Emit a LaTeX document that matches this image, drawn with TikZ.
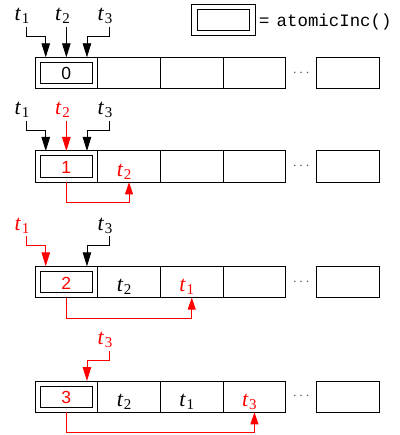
\documentclass[tikz,border=0pt]{standalone}
\usepackage{fontspec}
\setmainfont{Liberation Serif}
\newfontfamily\numfont{Liberation Sans}
\newfontfamily\codefont{Liberation Mono}
\usetikzlibrary{arrows.meta}
% thread name t_i with a lowered upright index
\newcommand\tsub[1]{\textit{t}\kern0.5pt\raisebox{-3pt}{\fontsize{15}{15}\selectfont #1}}

\begin{document}
\begin{tikzpicture}[x=1pt,y=-1pt,
  cell/.style={draw, line width=1pt, minimum width=62.7pt, minimum height=31.3pt, inner sep=0pt, outer sep=0pt},
  casbox/.style={draw, line width=1pt, minimum width=52pt, minimum height=21.3pt, inner sep=0pt, outer sep=0pt},
  num/.style={font=\numfont\fontsize{17.5}{19}\selectfont, inner sep=0pt},
  tlab/.style={font=\fontsize{22}{24}\selectfont, inner sep=0pt, anchor=base west},
  tcell/.style={font=\fontsize{22}{24}\selectfont, inner sep=0pt, anchor=base},
  conn/.style={line width=0.9pt, -{Triangle[length=14pt,width=8.5pt]}},
  back/.style={line width=0.9pt, -{Triangle[length=12pt,width=8pt]}}
]
\useasboundingbox (0,0) rectangle (399,435);

% legend
\node[cell, minimum width=64pt] (key) at (223,20.35) {};
\node[casbox] (keyin) at (key) {};
\node[num, anchor=base west] (eq) at (259,26.5) {=};
\node[inner sep=0pt, anchor=base west, font=\codefont\fontsize{17.4}{19}\selectfont] (fn) at (276.5,26.5) {atomicInc()};

% the four snapshots of the array
\foreach \r/\T in {1/57.3, 2/151, 3/266.3, 4/381} {
  \foreach \c/\X in {1/66.35, 2/129.05, 3/191.75, 4/254.45, 5/348} {
    \node[cell] (r\r c\c) at (\X,\T+15.65) {};
  }
  \node[casbox] (r\r b) at (r\r c1) {};
  \node[inner sep=0pt, font=\fontsize{14}{14}\selectfont, text=black!70] (r\r dots) at (301.2,\T+15.65) {$\cdots$};
}

% values held by the counter cell
\node[num] (v1) at ([yshift=-1pt]r1b.center) {0};
\node[num, red] (v2) at ([yshift=-1pt]r2b.center) {1};
\node[num, red] (v3) at ([yshift=-1pt]r3b.center) {2};
\node[num, red] (v4) at ([yshift=-1pt]r4b.center) {3};

% threads written into the slots
\node[tcell, red] (s22) at ([xshift=-5pt,yshift=-9.8pt]r2c2.center) {\tsub{2}};
\node[tcell] (s32) at ([xshift=-5pt,yshift=-9.8pt]r3c2.center) {\tsub{2}};
\node[tcell, red] (s33) at ([xshift=-5pt,yshift=-9.8pt]r3c3.center) {\tsub{1}};
\node[tcell] (s42) at ([xshift=-5pt,yshift=-9.8pt]r4c2.center) {\tsub{2}};
\node[tcell] (s43) at ([xshift=-5pt,yshift=-9.8pt]r4c3.center) {\tsub{1}};
\node[tcell, red] (s44) at ([xshift=-5pt,yshift=-9.8pt]r4c4.center) {\tsub{3}};

% thread labels above each snapshot
\node[tlab] (a1) at (14.5,21) {\tsub{1}};
\node[tlab] (a2) at (55,21) {\tsub{2}};
\node[tlab] (a3) at (97.5,21) {\tsub{3}};
\node[tlab] (b1) at (14.5,114.7) {\tsub{1}};
\node[tlab, red] (b2) at (55,114.7) {\tsub{2}};
\node[tlab] (b3) at (97.5,114.7) {\tsub{3}};
\node[tlab, red] (c1) at (14.5,230) {\tsub{1}};
\node[tlab] (c3) at (97.5,230) {\tsub{3}};
\node[tlab, red] (d3) at (97.5,344.7) {\tsub{3}};

% snapshot 1
\draw[conn] ([xshift=-3pt,yshift=-3pt]a1.south east) |- ([xshift=-20.6pt,yshift=21pt]r1c1.north) -- ([xshift=-20.6pt]r1c1.north);
\draw[conn] ([yshift=-3pt]a2.south -| r1c1.north) -- (r1c1.north);
\draw[conn] ([xshift=-3pt,yshift=-3pt]a3.south east) |- ([xshift=20.6pt,yshift=21pt]r1c1.north) -- ([xshift=20.6pt]r1c1.north);

% snapshot 2
\draw[conn] ([xshift=-3pt,yshift=-3pt]b1.south east) |- ([xshift=-20.6pt,yshift=21pt]r2c1.north) -- ([xshift=-20.6pt]r2c1.north);
\draw[conn, red] ([yshift=-3pt]b2.south -| r2c1.north) -- (r2c1.north);
\draw[conn] ([xshift=-3pt,yshift=-3pt]b3.south east) |- ([xshift=20.6pt,yshift=21pt]r2c1.north) -- ([xshift=20.6pt]r2c1.north);
\draw[back, red] (r2c1.south) |- ([yshift=-20.5pt]r2c2.south) -- (r2c2.south);

% snapshot 3
\draw[conn, red] ([xshift=-3pt,yshift=-3pt]c1.south east) |- ([xshift=-20.6pt,yshift=21pt]r3c1.north) -- ([xshift=-20.6pt]r3c1.north);
\draw[conn] ([xshift=-3pt,yshift=-3pt]c3.south east) |- ([xshift=20.6pt,yshift=21pt]r3c1.north) -- ([xshift=20.6pt]r3c1.north);
\draw[back, red] (r3c1.south) |- ([yshift=-20.5pt]r3c3.south) -- (r3c3.south);

% snapshot 4
\draw[conn, red] ([xshift=-3pt,yshift=-3pt]d3.south east) |- ([xshift=20.6pt,yshift=21pt]r4c1.north) -- ([xshift=20.6pt]r4c1.north);
\draw[back, red] (r4c1.south) |- ([yshift=-20.5pt]r4c4.south) -- (r4c4.south);
\end{tikzpicture}
\end{document}
